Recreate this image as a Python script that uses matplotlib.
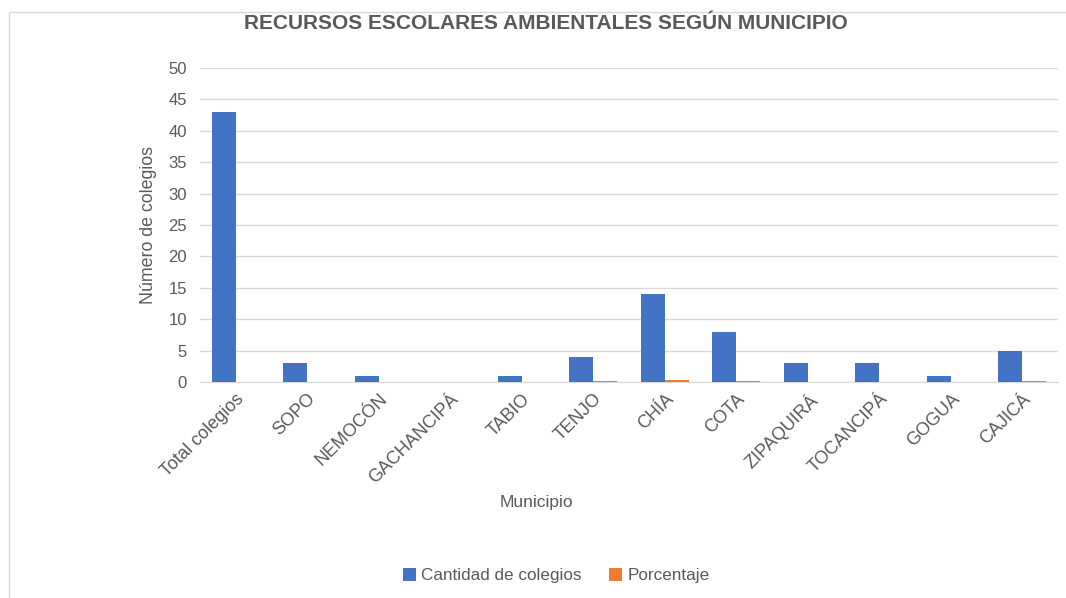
import numpy as np
import matplotlib
matplotlib.use('Agg')
import matplotlib.pyplot as plt
from matplotlib.patches import Rectangle

plt.rcParams['font.family'] = ['Liberation Sans', 'DejaVu Sans']

municipios = ['Total colegios', 'SOPO', 'NEMOCÓN', 'GACHANCIPÁ', 'TABIO', 'TENJO',
              'CHÍA', 'COTA', 'ZIPAQUIRÁ', 'TOCANCIPÁ', 'GOGUA', 'CAJICÁ']
cantidad = [43, 3, 1, 0, 1, 4, 14, 8, 3, 3, 1, 5]
porcentaje = [0, 0.07, 0.02, 0, 0.02, 0.09, 0.33, 0.19, 0.07, 0.07, 0.02, 0.12]

azul = '#4472C4'
naranja = '#ED7D31'
gris = '#595959'

fig = plt.figure(figsize=(10.66, 5.98), dpi=100)
ax = fig.add_axes([0.1876, 0.3612, 0.805, 0.5251])

x = np.arange(len(municipios))
w = 0.335
ax.bar(x - w / 2, cantidad, w, color=azul, label='Cantidad de colegios', zorder=3)
ax.bar(x + w / 2, porcentaje, w, color=naranja, label='Porcentaje', zorder=3)

ax.set_xlim(-0.5, len(municipios) - 0.5)
ax.set_ylim(0, 50)
ax.set_yticks(np.arange(0, 51, 5))
ax.grid(axis='y', color='#d9d9d9', linewidth=1, zorder=0)
for s in ['top', 'right', 'left']:
    ax.spines[s].set_visible(False)
ax.spines['bottom'].set_color('#d9d9d9')
ax.tick_params(axis='y', length=0, colors=gris, labelsize=12, pad=9.5)
ax.tick_params(axis='x', length=0, colors=gris, labelsize=13, pad=6)
ax.set_xticks(x)
ax.set_xticklabels(municipios, rotation=45, ha='right', rotation_mode='anchor')
for lbl in ax.get_xticklabels():
    lbl.set_x(lbl.get_position()[0])

fig.text(0.139, 0.624, 'Número de colegios', rotation=90, ha='center', va='center',
         color=gris, fontsize=12.8)
fig.text(0.503, 0.16, 'Municipio', ha='center', va='center', color=gris, fontsize=12.5)

fig.text(0.512, 0.96, 'RECURSOS ESCOLARES AMBIENTALES SEGÚN MUNICIPIO',
         ha='center', va='center', fontsize=15, fontweight='bold', color=gris)

fig.legend(loc='center', bbox_to_anchor=(0.522, 0.037), ncol=2, frameon=False,
           fontsize=12.3, handlelength=0.75, handleheight=0.75, columnspacing=1.6,
           handletextpad=0.3, labelcolor=gris)

fig.patches.append(Rectangle((0.008, -0.01), 1.1, 0.99, transform=fig.transFigure,
                             fill=False, edgecolor='#d9d9d9', linewidth=1))

fig.savefig('out.png', dpi=100)
